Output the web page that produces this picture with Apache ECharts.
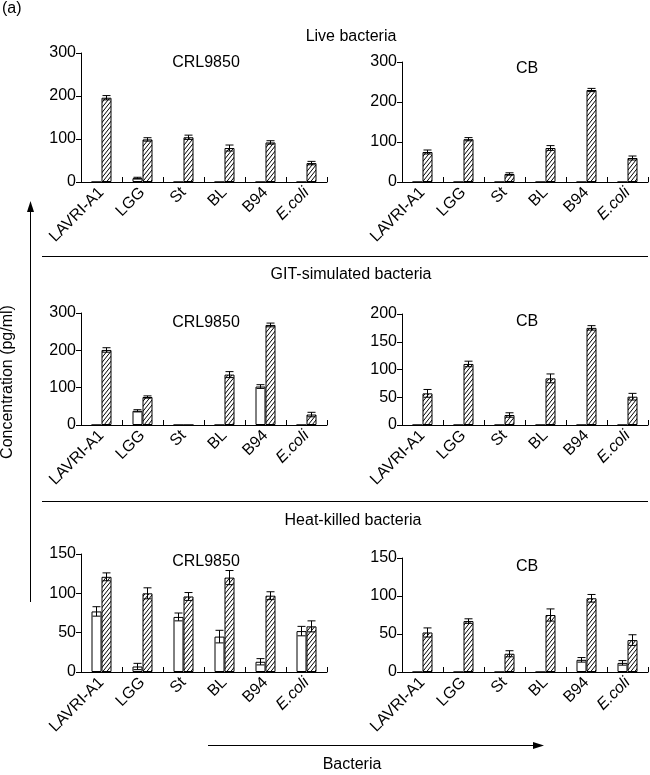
<!DOCTYPE html>
<html>
<head>
<meta charset="utf-8">
<script src="https://cdn.jsdelivr.net/npm/echarts@6/dist/echarts.min.js"></script>
<style>html,body{margin:0;padding:0;background:#fff}#c{width:650px;height:775px}</style>
</head>
<body>
<div id="c"></div>
<script>
// ---- data ----
const categories = ['LAVRI-A1', 'LGG', 'St', 'BL', 'B94', 'E.coli'];
const sectionTitles = ['Live bacteria', 'GIT-simulated bacteria', 'Heat-killed bacteria'];
const panelNames = ['CRL9850', 'CB'];
const yMax = [300, 300, 300, 200, 150, 150];
const yStep = [100, 100, 100, 50, 50, 50];

// Live bacteria
const liveCRLOpen = [0, 9, 0, 0, 0, 0];
const liveCRLOpenErr = [0, 2, 0, 0, 0, 0];
const liveCRLHatch = [196, 99, 104, 79, 92, 44];
const liveCRLHatchErr = [5, 4, 5, 7, 4, 4];
const liveCBOpen = [0, 0, 0, 0, 0, 0];
const liveCBOpenErr = [0, 0, 0, 0, 0, 0];
const liveCBHatch = [75, 107, 20, 85, 230, 60];
const liveCBHatchErr = [5, 4, 3, 6, 4, 5];
// GIT-simulated bacteria
const gitCRLOpen = [0, 38, 0, 0, 103, 0];
const gitCRLOpenErr = [0, 3, 0, 0, 5, 0];
const gitCRLHatch = [201, 75, 0, 135, 268, 28];
const gitCRLHatchErr = [6, 3, 0, 8, 5, 6];
const gitCBOpen = [0, 0, 0, 0, 0, 0];
const gitCBOpenErr = [0, 0, 0, 0, 0, 0];
const gitCBHatch = [57, 110, 18, 84, 175, 51];
const gitCBHatchErr = [7, 5, 4, 8, 4, 6];
// Heat-killed bacteria
const heatCRLOpen = [77, 7, 70, 45, 13, 52];
const heatCRLOpenErr = [6, 4, 5, 8, 4, 6];
const heatCRLHatch = [121, 100, 96, 120, 97, 58];
const heatCRLHatchErr = [5, 7, 5, 9, 5, 7];
const heatCBOpen = [0, 0, 0, 0, 16, 12];
const heatCBOpenErr = [0, 0, 0, 0, 3, 3];
const heatCBHatch = [52, 67, 24, 75, 97, 42];
const heatCBHatchErr = [6, 3, 4, 8, 5, 7];

const panels = [
  [liveCRLOpen, liveCRLOpenErr, liveCRLHatch, liveCRLHatchErr],
  [liveCBOpen, liveCBOpenErr, liveCBHatch, liveCBHatchErr],
  [gitCRLOpen, gitCRLOpenErr, gitCRLHatch, gitCRLHatchErr],
  [gitCBOpen, gitCBOpenErr, gitCBHatch, gitCBHatchErr],
  [heatCRLOpen, heatCRLOpenErr, heatCRLHatch, heatCRLHatchErr],
  [heatCBOpen, heatCBOpenErr, heatCBHatch, heatCBHatchErr]
];

// ---- layout / style ----
const FONT = "'Liberation Sans', Arial, sans-serif";
const grids = [
  {left: 81, top: 53, width: 246, height: 129},
  {left: 402, top: 62, width: 246, height: 120},
  {left: 81, top: 313, width: 246, height: 112},
  {left: 402, top: 314, width: 246, height: 111},
  {left: 81, top: 554, width: 246, height: 118},
  {left: 402, top: 558, width: 246, height: 114}
];
const subTitlePos = [[206, 63], [527, 69], [206, 323], [527, 322], [206, 562], [527, 567]];
const BW = 10;

function hatchPattern() {
  const w = 4, h = 5;
  const c = document.createElement('canvas');
  c.width = w; c.height = h;
  const ctx = c.getContext('2d');
  ctx.fillStyle = '#fff';
  ctx.fillRect(0, 0, w, h);
  ctx.strokeStyle = '#000';
  ctx.lineWidth = 1;
  for (let k = -1; k <= 1; k++) {
    ctx.beginPath();
    ctx.moveTo(k * w, h);
    ctx.lineTo(k * w + w, 0);
    ctx.stroke();
  }
  return {image: c, repeat: 'repeat'};
}
const hatch = hatchPattern();

const option = {
  animation: false,
  backgroundColor: '#fff',
  textStyle: {fontFamily: FONT, color: '#000'},
  grid: grids.map(g => Object.assign({containLabel: false, outerBoundsMode: 'none'}, g)),
  xAxis: grids.map((g, i) => ({
    type: 'category', gridIndex: i, data: categories, boundaryGap: true,
    axisLine: {show: true, lineStyle: {color: '#000', width: 1}},
    axisTick: {show: true, inside: true, length: 5, alignWithLabel: false, interval: 0, lineStyle: {color: '#000'}},
    axisLabel: {
      show: true, interval: 0, rotate: 45, margin: 8, fontSize: 16, color: '#000', fontFamily: FONT,
      formatter: v => v === 'E.coli' ? '{i|' + v + '}' : v,
      rich: {i: {fontStyle: 'italic', fontSize: 16, fontFamily: FONT, color: '#000'}}
    },
    splitLine: {show: false}
  })),
  yAxis: grids.map((g, i) => ({
    type: 'value', gridIndex: i, min: 0, max: yMax[i], interval: yStep[i],
    axisLine: {show: true, lineStyle: {color: '#000', width: 1}},
    axisTick: {show: true, inside: false, length: 5, lineStyle: {color: '#000'}},
    axisLabel: {show: true, margin: 5, fontSize: 16, color: '#000', fontFamily: FONT},
    splitLine: {show: false}
  })),
  series: [],
  graphic: []
};

function errSeries(i, vals, errs, dx) {
  const data = [];
  vals.forEach((v, k) => { if (errs[k] > 0) data.push([k, v, errs[k]]); });
  return {
    type: 'custom', xAxisIndex: i, yAxisIndex: i, data: data, z: 5,
    encode: {x: 0, y: 1},
    renderItem: function (params, api) {
      const k = api.value(0), v = api.value(1), e = api.value(2);
      const hi = api.coord([k, v + e]);
      const lo = api.coord([k, v - e]);
      const x = hi[0] + dx;
      const cap = 4;
      const st = {stroke: '#000', lineWidth: 1};
      return {
        type: 'group',
        children: [
          {type: 'line', shape: {x1: x, y1: hi[1], x2: x, y2: lo[1]}, style: st},
          {type: 'line', shape: {x1: x - cap, y1: hi[1], x2: x + cap, y2: hi[1]}, style: st},
          {type: 'line', shape: {x1: x - cap, y1: lo[1], x2: x + cap, y2: lo[1]}, style: st}
        ]
      };
    }
  };
}

panels.forEach((p, i) => {
  option.series.push({
    type: 'bar', xAxisIndex: i, yAxisIndex: i, data: p[0], barWidth: BW, barGap: '0%',
    itemStyle: {color: '#fff', borderColor: '#000', borderWidth: 1}
  });
  option.series.push({
    type: 'bar', xAxisIndex: i, yAxisIndex: i, data: p[2], barWidth: BW, barGap: '0%',
    itemStyle: {color: hatch, borderColor: '#000', borderWidth: 1}
  });
  option.series.push(errSeries(i, p[0], p[1], -BW / 2));
  option.series.push(errSeries(i, p[2], p[3], BW / 2));
});

const g = option.graphic;
function txt(x, y, s, extra) {
  g.push(Object.assign({type: 'text', x: x, y: y,
    style: Object.assign({text: s, fill: '#000', font: '16px ' + FONT, textAlign: 'center', textVerticalAlign: 'middle'}, extra || {})}, {}));
}
txt(2, 9, '(a)', {textAlign: 'left'});
txt(351, 37, sectionTitles[0]);
txt(351, 275, sectionTitles[1]);
txt(353, 521, sectionTitles[2]);
subTitlePos.forEach((pp, i) => txt(pp[0], pp[1], panelNames[i % 2]));
// separators
g.push({type: 'line', shape: {x1: 42, y1: 256.5, x2: 648, y2: 256.5}, style: {stroke: '#000', lineWidth: 1}});
g.push({type: 'line', shape: {x1: 42, y1: 501.5, x2: 648, y2: 501.5}, style: {stroke: '#000', lineWidth: 1}});
// vertical arrow
g.push({type: 'line', shape: {x1: 30.5, y1: 602, x2: 30.5, y2: 208}, style: {stroke: '#000', lineWidth: 1}});
g.push({type: 'polygon', shape: {points: [[30.5, 201], [27, 212], [34, 212]]}, style: {fill: '#000'}});
g.push({type: 'text', x: 8, y: 382, rotation: Math.PI / 2,
  style: {text: 'Concentration (pg/ml)', fill: '#000', font: '16px ' + FONT, textAlign: 'center', textVerticalAlign: 'middle'}});
// horizontal arrow
g.push({type: 'line', shape: {x1: 208, y1: 745.5, x2: 536, y2: 745.5}, style: {stroke: '#000', lineWidth: 1}});
g.push({type: 'polygon', shape: {points: [[544, 745.5], [533, 742], [533, 749]]}, style: {fill: '#000'}});
txt(352, 765, 'Bacteria');

const chart = echarts.init(document.getElementById('c'), null, {renderer: 'canvas'});
chart.setOption(option);
</script>
</body>
</html>
